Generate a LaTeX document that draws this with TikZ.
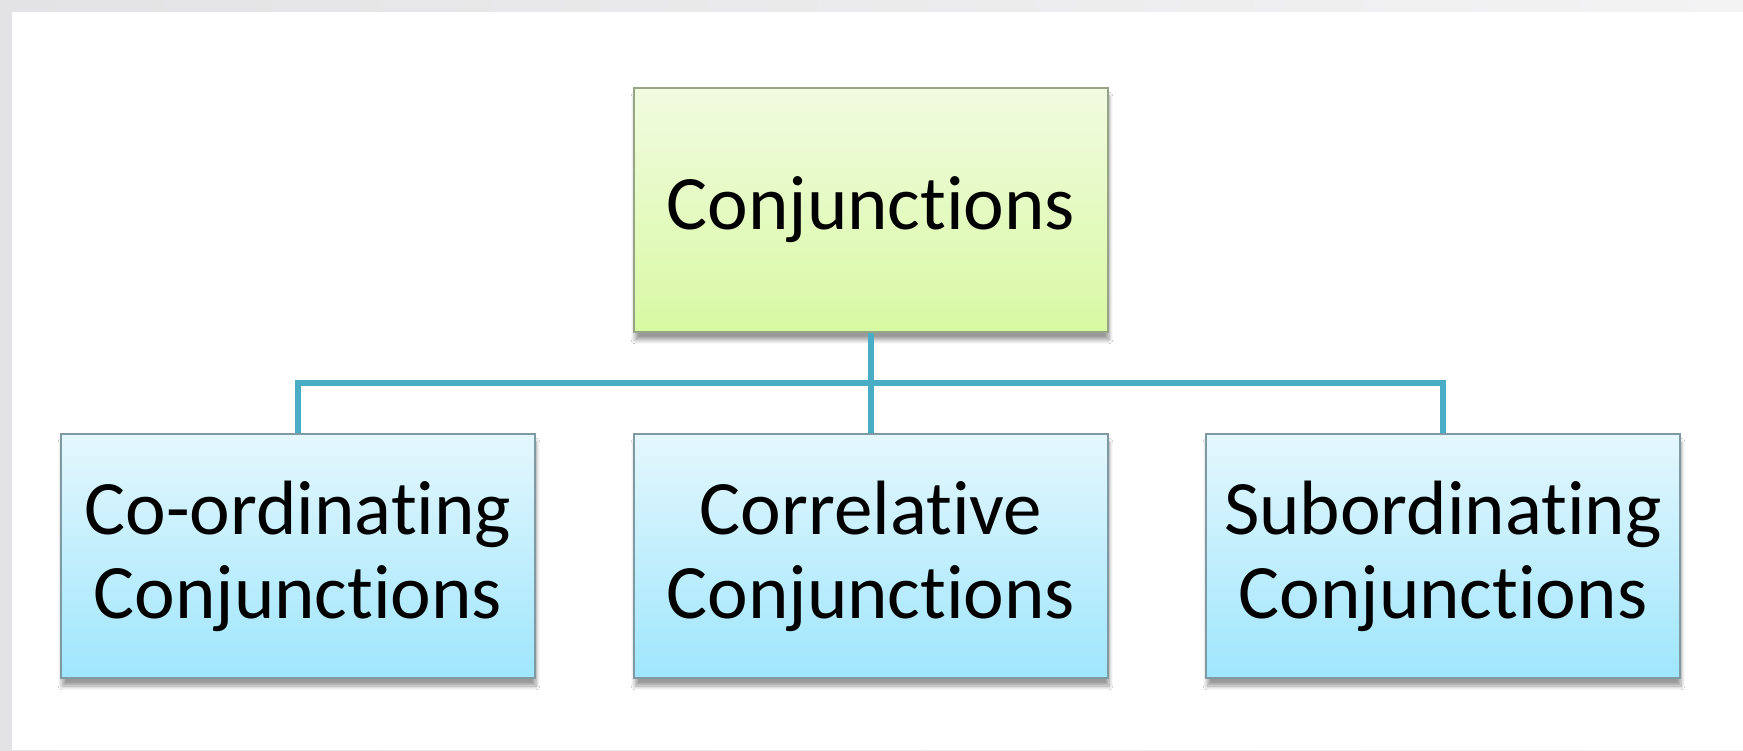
\documentclass[tikz,border=0pt]{standalone}
\usepackage{fontspec}
\setmainfont{Carlito}[Ligatures={NoCommon}]
\usetikzlibrary{shadows.blur}
\definecolor{linkblue}{HTML}{4BACC6}
\definecolor{limetop}{HTML}{F1FBE0}
\definecolor{limebot}{HTML}{D8F9A3}
\definecolor{skytop}{HTML}{E4F7FD}
\definecolor{skybot}{HTML}{9FE6FC}
\definecolor{frametop}{HTML}{E3E2E4}
\definecolor{frameright}{HTML}{F3F3F4}
\definecolor{limeedge}{HTML}{98A486}
\definecolor{skyedge}{HTML}{7F9AA3}
\tikzset{
  box/.style={draw=gray, line width=0.8pt, minimum width=237pt,
    minimum height=122pt, align=center, inner sep=2pt,
    font=\fontsize{38.5}{42}\selectfont,
    blur shadow={shadow xshift=0.5pt, shadow yshift=-4pt, shadow blur steps=8, shadow opacity=40}},
  rootbox/.style={box, top color=limetop, bottom color=limebot, draw=limeedge},
  kindbox/.style={box, top color=skytop, bottom color=skybot, draw=skyedge},
  link/.style={draw=linkblue, line width=2.8pt}
}
\begin{document}
\begin{tikzpicture}[x=0.5pt,y=0.5pt]
    \useasboundingbox (0,0) rectangle (1743,750);
    % page frame
    \shade[left color=frametop, right color=frameright] (0,0) rectangle (1743,750);
    \fill[white] (12,0) rectangle (1743,738);
    % boxes
    \node[rootbox] (conj) at (871,540) {Conjunctions};
    \node[kindbox] (coord) at (298,194) {Co-ordinating\\Conjunctions};
    \node[kindbox] (correl) at (871,194) {Correlative\\Conjunctions};
    \node[kindbox] (subord) at (1443,194) {Subordinating\\Conjunctions};
    % connectors
    \foreach \kind in {coord,correl,subord}{
      \draw[link] (conj.south) -- ++(0,-50) -| (\kind.north);
    }
\end{tikzpicture}
\end{document}
